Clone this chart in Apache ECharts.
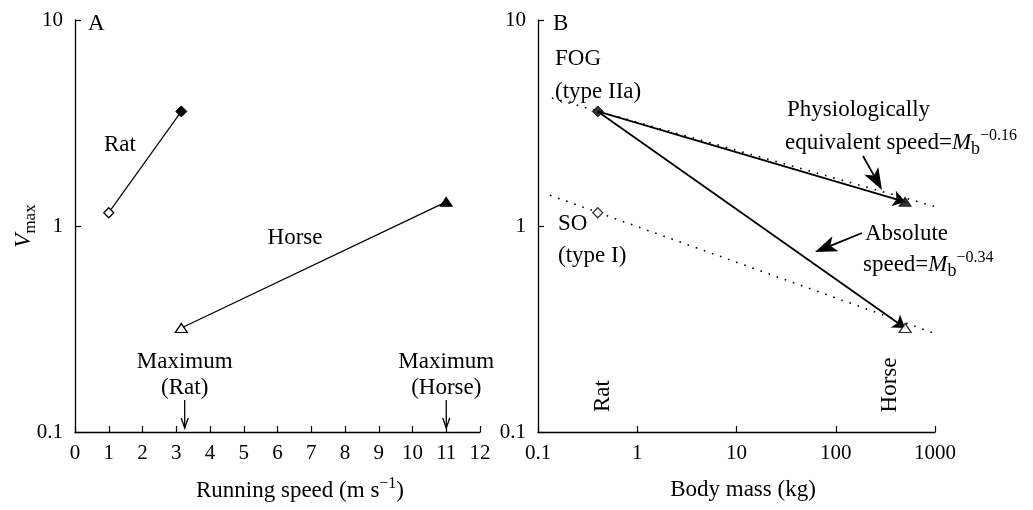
<!DOCTYPE html>
<html>
<head>
<meta charset="utf-8">
<script src="https://cdn.jsdelivr.net/npm/echarts@6/dist/echarts.min.js"></script>
<style>
  html, body { margin: 0; background: #fff; }
  #chart { width: 1033px; height: 510px; }
</style>
</head>
<body>
<div id="chart"></div>
<script>
// ---- panel A: Vmax against running speed ----
const ratSpeed = [1, 3.15];
const ratVmax = [1.16, 3.6];
const horseSpeed = [3.15, 11];
const horseVmax = [0.32, 1.31];
const maxSpeed = [3.25, 11]; // "Maximum (Rat)", "Maximum (Horse)"
const speedTicks = [0, 1, 2, 3, 4, 5, 6, 7, 8, 9, 10, 11, 12];

// ---- panel B: Vmax against body mass ----
const bodyMass = [0.4, 500]; // rat, horse
const fogVmax = [3.6, 1.31];
const soVmax = [1.16, 0.32];
const fogFitMass = [0.138, 1150];
const fogFitVmax = [4.18, 1.22];
const soFitMass = [0.132, 1230];
const soFitVmax = [1.41, 0.29];
const vmaxTicks = [0.1, 1, 10];
const massTicks = [0.1, 1, 10, 100, 1000];

const FONT = '"Liberation Serif", "DejaVu Serif", serif';
const TS = 23; // annotation font size
const open = { color: '#fff', borderColor: '#000', borderWidth: 1.3 };
const filled = { color: '#000', borderColor: '#000', borderWidth: 1 };

const chart = echarts.init(document.getElementById('chart'));

function nearest(list, v) {
  return list.find(t => Math.abs(Math.log10(t) - Math.log10(v)) < 1e-6) + '';
}

function xAxisBase(grid) {
  return {
    gridIndex: grid,
    axisLine: { show: true, onZero: false, lineStyle: { color: '#000', width: 1.3 } },
    axisTick: { show: true, inside: true, length: 6, lineStyle: { color: '#000', width: 1.2 } },
    axisLabel: { color: '#000', fontFamily: FONT, fontSize: 21, margin: 11 },
    splitLine: { show: false }
  };
}
function yAxisBase(grid) {
  return {
    type: 'log', logBase: 10, min: 0.1, max: 10, gridIndex: grid,
    axisLine: { show: true, onZero: false, lineStyle: { color: '#000', width: 1.3 } },
    axisTick: { show: true, inside: true, length: 6, lineStyle: { color: '#000', width: 1.2 } },
    axisLabel: {
      color: '#000', fontFamily: FONT, fontSize: 21, margin: 12,
      formatter: v => nearest(vmaxTicks, v)
    },
    splitLine: { show: false }
  };
}

function pt(x, y, symbol, style, size) {
  return { value: [x, y], symbol: symbol, symbolSize: size, itemStyle: style };
}

const xB = xAxisBase(1);
xB.axisLabel.formatter = v => nearest(massTicks, v);

const option = {
  animation: false,
  backgroundColor: '#fff',
  grid: [
    { left: 75, top: 20, width: 405, height: 412 },
    { left: 538, top: 20, width: 397, height: 412 }
  ],
  xAxis: [
    Object.assign(xAxisBase(0), { type: 'value', min: 0, max: 12, interval: 1 }),
    Object.assign(xB, { type: 'log', logBase: 10, min: 0.1, max: 1000 })
  ],
  yAxis: [yAxisBase(0), yAxisBase(1)],
  series: [
    {
      type: 'line', xAxisIndex: 0, yAxisIndex: 0, showAllSymbol: true,
      lineStyle: { color: '#000', width: 1.2 },
      emphasis: { disabled: true },
      data: [
        pt(ratSpeed[0], ratVmax[0], 'diamond', open, 10),
        pt(ratSpeed[1], ratVmax[1], 'diamond', filled, 11)
      ]
    },
    {
      type: 'line', xAxisIndex: 0, yAxisIndex: 0, showAllSymbol: true,
      lineStyle: { color: '#000', width: 1.2 },
      emphasis: { disabled: true },
      data: [
        pt(horseSpeed[0], horseVmax[0], 'triangle', open, [12, 9]),
        pt(horseSpeed[1], horseVmax[1], 'triangle', filled, [12, 9])
      ]
    },
    // dotted allometric lines in B
    {
      type: 'line', xAxisIndex: 1, yAxisIndex: 1, symbol: 'none',
      lineStyle: { color: '#000', width: 1.6, type: [1.6, 7] },
      emphasis: { disabled: true },
      data: [[fogFitMass[0], fogFitVmax[0]], [fogFitMass[1], fogFitVmax[1]]]
    },
    {
      type: 'line', xAxisIndex: 1, yAxisIndex: 1, symbol: 'none',
      lineStyle: { color: '#000', width: 1.6, type: [1.6, 7] },
      emphasis: { disabled: true },
      data: [[soFitMass[0], soFitVmax[0]], [soFitMass[1], soFitVmax[1]]]
    },
    // arrowed lines from rat FOG to horse points
    {
      type: 'lines', coordinateSystem: 'cartesian2d', xAxisIndex: 1, yAxisIndex: 1,
      symbol: ['none', 'arrow'], symbolSize: [8, 12],
      lineStyle: { color: '#000', width: 1.8, opacity: 1, curveness: 0 },
      emphasis: { disabled: true },
      data: [
        { coords: [[bodyMass[0], fogVmax[0]], [bodyMass[1], fogVmax[1]]] },
        { coords: [[bodyMass[0], fogVmax[0]], [bodyMass[1], soVmax[1]]] }
      ]
    },
    {
      type: 'scatter', xAxisIndex: 1, yAxisIndex: 1, z: 5,
      emphasis: { disabled: true },
      data: [
        pt(bodyMass[0], fogVmax[0], 'diamond', filled, 11),
        pt(bodyMass[0], soVmax[0], 'diamond', open, 10),
        pt(bodyMass[1], fogVmax[1], 'triangle', filled, [12, 9]),
        pt(bodyMass[1], soVmax[1], 'triangle', open, [12, 9])
      ]
    }
  ]
};
chart.setOption(option);

// ---- annotations ----
function txt(x, y, text, extra) {
  extra = extra || {};
  return {
    type: 'text', x: x, y: y, rotation: extra.rotation || 0, z: 10,
    style: {
      text: text, fill: '#000',
      font: (extra.italic ? 'italic ' : '') + (extra.size || TS) + 'px ' + FONT,
      align: extra.align || 'left', verticalAlign: 'middle',
      rich: extra.rich
    }
  };
}
const richMb = {
  n: { fontSize: TS, fontFamily: FONT, lineHeight: 30 },
  i: { fontSize: TS, fontFamily: FONT, fontStyle: 'italic', lineHeight: 30 },
  b: { fontSize: 18, fontFamily: FONT, verticalAlign: 'bottom', lineHeight: 26 },
  p: { fontSize: 16, fontFamily: FONT, verticalAlign: 'top', lineHeight: 18 }
};
// big filled-head pointer arrow
function bigArrow(x1, y1, x2, y2) {
  const a = Math.atan2(y2 - y1, x2 - x1), L = 22, W = 8;
  const bx = x2 - L * Math.cos(a), by = y2 - L * Math.sin(a);
  const nx = -Math.sin(a) * W, ny = Math.cos(a) * W;
  const mx = x2 - 0.75 * L * Math.cos(a), my = y2 - 0.75 * L * Math.sin(a);
  return [
    { type: 'line', z: 10, shape: { x1: x1, y1: y1, x2: mx, y2: my }, style: { stroke: '#000', lineWidth: 1.8 } },
    { type: 'polygon', z: 10, shape: { points: [[x2, y2], [bx + nx, by + ny], [mx, my], [bx - nx, by - ny]] }, style: { fill: '#000' } }
  ];
}
function smallArrow(x, y1, y2) {
  return [
    { type: 'line', z: 10, shape: { x1: x, y1: y1, x2: x, y2: y2 }, style: { stroke: '#000', lineWidth: 1.3 } },
    { type: 'polyline', z: 10, shape: { points: [[x - 3.5, y2 - 10], [x, y2], [x + 3.5, y2 - 10]] }, style: { stroke: '#000', lineWidth: 1.3, fill: null } }
  ];
}

const xr = chart.convertToPixel({ gridIndex: 0 }, [maxSpeed[0], 1])[0];
const xh = chart.convertToPixel({ gridIndex: 0 }, [maxSpeed[1], 1])[0];

const g = [
  txt(88, 24, 'A'),
  txt(120, 145, 'Rat', { align: 'center' }),
  txt(295, 238, 'Horse', { align: 'center' }),
  txt(xr, 362, 'Maximum', { align: 'center' }),
  txt(xr, 388, '(Rat)', { align: 'center' }),
  txt(xh, 362, 'Maximum', { align: 'center' }),
  txt(xh, 388, '(Horse)', { align: 'center' }),
  txt(300, 491, '{n|Running speed (m s}{p|−1}{n|)}', { align: 'center', rich: richMb }),
  txt(24, 226, '{v|V}{s|max}', {
    align: 'center', rotation: Math.PI / 2,
    rich: {
      v: { fontSize: 23, fontFamily: FONT, fontStyle: 'italic', lineHeight: 30 },
      s: { fontSize: 17, fontFamily: FONT, verticalAlign: 'bottom', lineHeight: 24 }
    }
  }),
  txt(553, 24, 'B'),
  txt(555, 59, 'FOG'),
  txt(555, 92, '(type IIa)'),
  txt(558, 224, 'SO'),
  txt(558, 256, '(type I)'),
  txt(787, 110, 'Physiologically'),
  txt(785, 143, '{n|equivalent speed=}{i|M}{b|b}{p|−0.16}', { rich: richMb }),
  txt(865, 234, 'Absolute'),
  txt(863, 265, '{n|speed=}{i|M}{b|b}{p|−0.34}', { rich: richMb }),
  txt(603, 396, 'Rat', { align: 'center', rotation: Math.PI / 2 }),
  txt(890, 385, 'Horse', { align: 'center', rotation: Math.PI / 2 }),
  txt(743, 490, 'Body mass (kg)', { align: 'center' })
]
  .concat(smallArrow(xr, 400, 428))
  .concat(smallArrow(xh, 400, 428))
  .concat(bigArrow(863, 156, 882, 190))
  .concat(bigArrow(862, 233, 815, 252));

chart.setOption({ graphic: g });

window.addEventListener('resize', function () {
  chart.resize();
});
</script>
</body>
</html>
